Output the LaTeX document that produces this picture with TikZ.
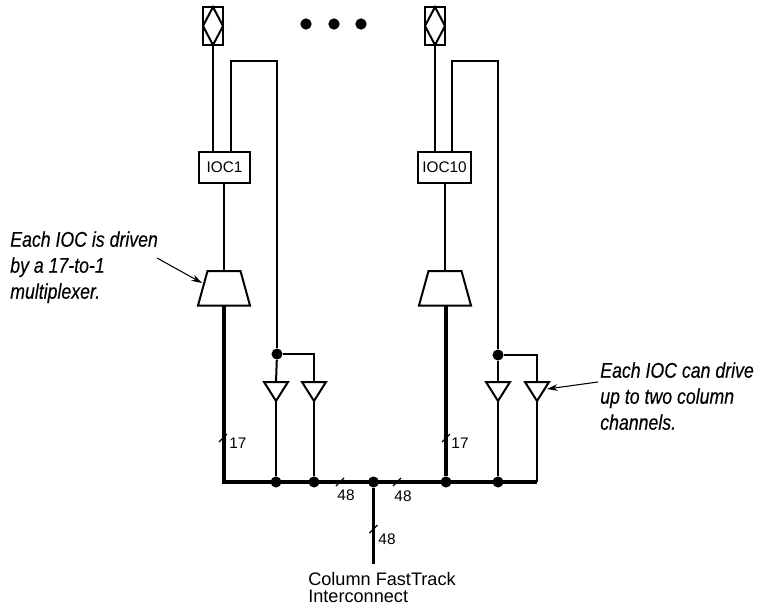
\documentclass[tikz,border=0pt]{standalone}
\usepackage{fontspec}
\setmainfont{Liberation Sans}
\newfontfamily\calloutfont[FakeStretch=0.83,FakeBold=0.25]{Liberation Sans}
\usetikzlibrary{arrows.meta,calc}
\tikzset{
  x=0.75pt,y=-0.75pt,
  wire/.style={line width=1.5pt},
  heavy/.style={line width=3.4pt},
  midwire/.style={line width=2.1pt},
  part/.style={draw,line width=1.5pt,fill=white,line join=miter},
  ioc/.style={draw,line width=1.5pt,fill=white,minimum height=23.25pt,inner sep=0pt,font=\fontsize{11.5}{13}\selectfont},
  dot/.style={circle,fill=black,inner sep=0pt,minimum size=8.3pt},
  bigdot/.style={circle,fill=black,inner sep=0pt,minimum size=8.5pt},
  slash/.style={line width=1pt},
  num/.style={font=\fontsize{11.5}{13}\selectfont,inner sep=0pt},
  callout/.style={font=\calloutfont\itshape\fontsize{16}{19.5}\selectfont,inner sep=0pt,align=left,anchor=north west},
  pointer/.style={line width=0.8pt,-{Stealth[length=8pt,width=5pt]}},
}
\newcommand{\padsym}[1]{%
  \draw[part] ($(#1)+(-10,-19)$) rectangle ($(#1)+(10,19)$);
  \draw[part] ($(#1)+(0,-19)$) -- ($(#1)+(10,0)$) -- ($(#1)+(0,19)$) -- ($(#1)+(-10,0)$) -- cycle;
}
\newcommand{\muxsym}[1]{%
  \draw[part] ($(#1)+(-16.5,0)$) -- ($(#1)+(16.5,0)$) -- ($(#1)+(26,34.5)$) -- ($(#1)+(-26,34.5)$) -- cycle;
}
\newcommand{\bufsym}[1]{%
  \draw[part] ($(#1)+(-12,0)$) -- ($(#1)+(12,0)$) -- ($(#1)+(0,19)$) -- cycle;
}
\newcommand{\slashmark}[1]{%
  \draw[slash] ($(#1)+(-4,4)$) -- ($(#1)+(4,-4)$);
}
\begin{document}
\begin{tikzpicture}
\useasboundingbox (0,0) rectangle (768,610);
% anchors
\coordinate (padA) at (213,26);
\coordinate (padB) at (435,26);
\coordinate (muxA) at (224,271);
\coordinate (muxB) at (445,271);
\coordinate (bufA1) at (276,382);
\coordinate (bufA2) at (314,382);
\coordinate (bufB1) at (498,382);
\coordinate (bufB2) at (537,382);
\coordinate (fbA) at (231,61);
\coordinate (fbAr) at (277,61);
\coordinate (fbB) at (452,61);
\coordinate (fbBr) at (498,61);
\coordinate (busL) at (223,482);
\coordinate (busR) at (537,482);
\coordinate (cfEnd) at (373.5,564);
% IOC boxes
\node[ioc,minimum width=38.25pt] (iocA) at (224.5,167.5) {IOC1};
\node[ioc,minimum width=39.75pt] (iocB) at (444.5,167.5) {IOC10};
% junctions
\node[dot] (jA) at (277,354) {};
\node[dot] (jB) at (498,355) {};
\node[dot] (d1) at (276,482) {};
\node[dot] (d2) at (314,482) {};
\node[dot] (d3) at (373.5,482) {};
\node[dot] (d4) at (446,482) {};
\node[dot] (d5) at (498,482) {};
% wires
\draw[wire] (padA) ++(0,19) -- (padA |- iocA.north);
\draw[wire] (padB) ++(0,19) -- (padB |- iocB.north);
\draw[wire] (fbA |- iocA.north) -- (fbA) -- (fbAr) -- (jA);
\draw[wire] (fbB |- iocB.north) -- (fbB) -- (fbBr) -- (jB);
\draw[wire] (iocA.south -| muxA) -- (muxA);
\draw[wire] (iocB.south -| muxB) -- (muxB);
\draw[wire] (jA) -- (bufA1);
\draw[wire] (jA) -| (bufA2);
\draw[wire] (jB) -- (bufB1);
\draw[wire] (jB) -| (bufB2);
\draw[wire] (bufA1) ++(0,19) -- (d1);
\draw[wire] (bufA2) ++(0,19) -- (d2);
\draw[wire] (bufB1) ++(0,19) -- (d5);
\draw[wire] (bufB2) ++(0,19) -- (busR);
\draw[heavy,line join=miter] (muxA |- 0,305) -- (muxA |- busL) -- (busR);
\draw[heavy] (d4 |- 0,305) -- (d4);
\draw[midwire] (d3) -- (cfEnd);
% symbols
\padsym{padA}
\padsym{padB}
\muxsym{muxA}
\muxsym{muxB}
\bufsym{bufA1}
\bufsym{bufA2}
\bufsym{bufB1}
\bufsym{bufB2}
% bus ticks
\coordinate (t1) at (223,438);
\coordinate (t2) at (446,438);
\coordinate (t3) at (340,482);
\coordinate (t4) at (397,482);
\coordinate (t5) at (373.5,529);
\foreach \t in {t1,t2,t3,t4,t5}{\slashmark{\t}}
\node[num] (n1) at (238,443) {17};
\node[num] (n2) at (460,443) {17};
\node[num] (n3) at (346,495) {48};
\node[num] (n4) at (403,496) {48};
\node[num] (n5) at (387,539) {48};
% dots
\node[bigdot] (e1) at (306,24) {};
\node[bigdot] (e2) at (334,24) {};
\node[bigdot] (e3) at (361,24) {};
% texts
\node[inner sep=0pt,anchor=north west,align=left,font=\fontsize{13.6}{13}\selectfont] (cf) at (308,572) {Column FastTrack\\Interconnect};
\node[callout] (cl) at (10,231) {Each IOC is driven\\by a 17-to-1\\multiplexer.};
\node[callout] (cr) at (600,362) {Each IOC can drive\\up to two column\\channels.};
\coordinate (clArrow) at (157,258);
\coordinate (clTip) at (202,283);
\coordinate (crArrow) at (598,382);
\coordinate (crTip) at (547,389);
\draw[pointer] (clArrow) -- (clTip);
\draw[pointer] (crArrow) -- (crTip);
\end{tikzpicture}
\end{document}
